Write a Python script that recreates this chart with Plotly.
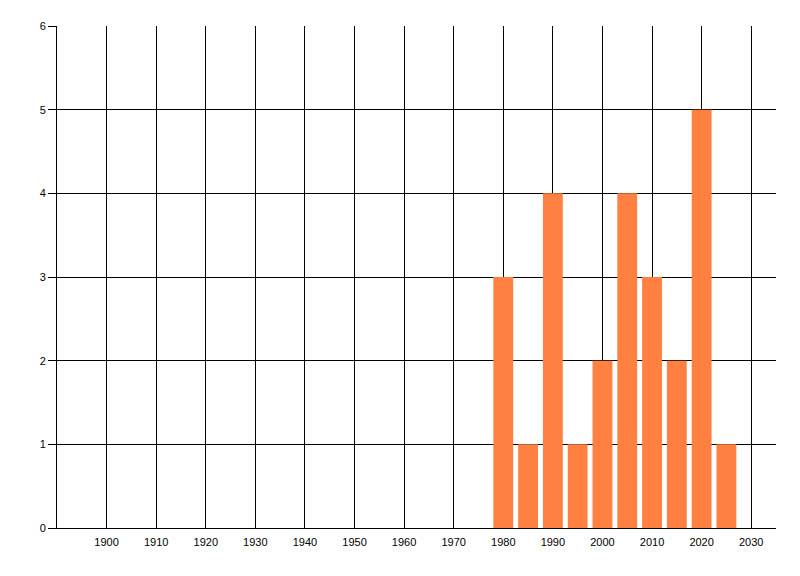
import plotly.graph_objects as go

# Jahre (Mitte der Balken) und Anzahl
years = [1980, 1985, 1990, 1995, 2000, 2005, 2010, 2015, 2020, 2025]
counts = [3, 1, 4, 1, 2, 4, 3, 2, 5, 1]

x_ticks = list(range(1900, 2031, 10))
y_ticks = list(range(0, 7))

fig = go.Figure()
fig.add_trace(go.Bar(
    x=years, y=counts, width=4,
    marker=dict(color='#ff8040', line_width=0),
    showlegend=False,
))

# Seite hat 8px Body-Rand -> Figur etwas kleiner
fig.update_layout(
    width=792, height=568,
    margin=dict(l=49, r=24, t=18, b=48),
    paper_bgcolor='white', plot_bgcolor='white',
    font=dict(family='Liberation Sans, Arial, sans-serif', size=11, color='#000'),
)

fig.update_xaxes(
    range=[1890, 2035], tickvals=x_ticks, ticktext=[str(v) for v in x_ticks],
    showgrid=True, gridcolor='#000', gridwidth=1,
    showline=True, linecolor='#000', linewidth=1,
    ticks='outside', ticklen=4, tickcolor='rgba(0,0,0,0)',
    zeroline=False,
)
fig.update_yaxes(
    range=[0, 6], tickvals=y_ticks,
    showgrid=True, gridcolor='#000', gridwidth=1,
    showline=True, linecolor='#000', linewidth=1,
    ticks='outside', ticklen=8, tickcolor='#000',
    zeroline=False,
)

fig.write_html('out.html')
